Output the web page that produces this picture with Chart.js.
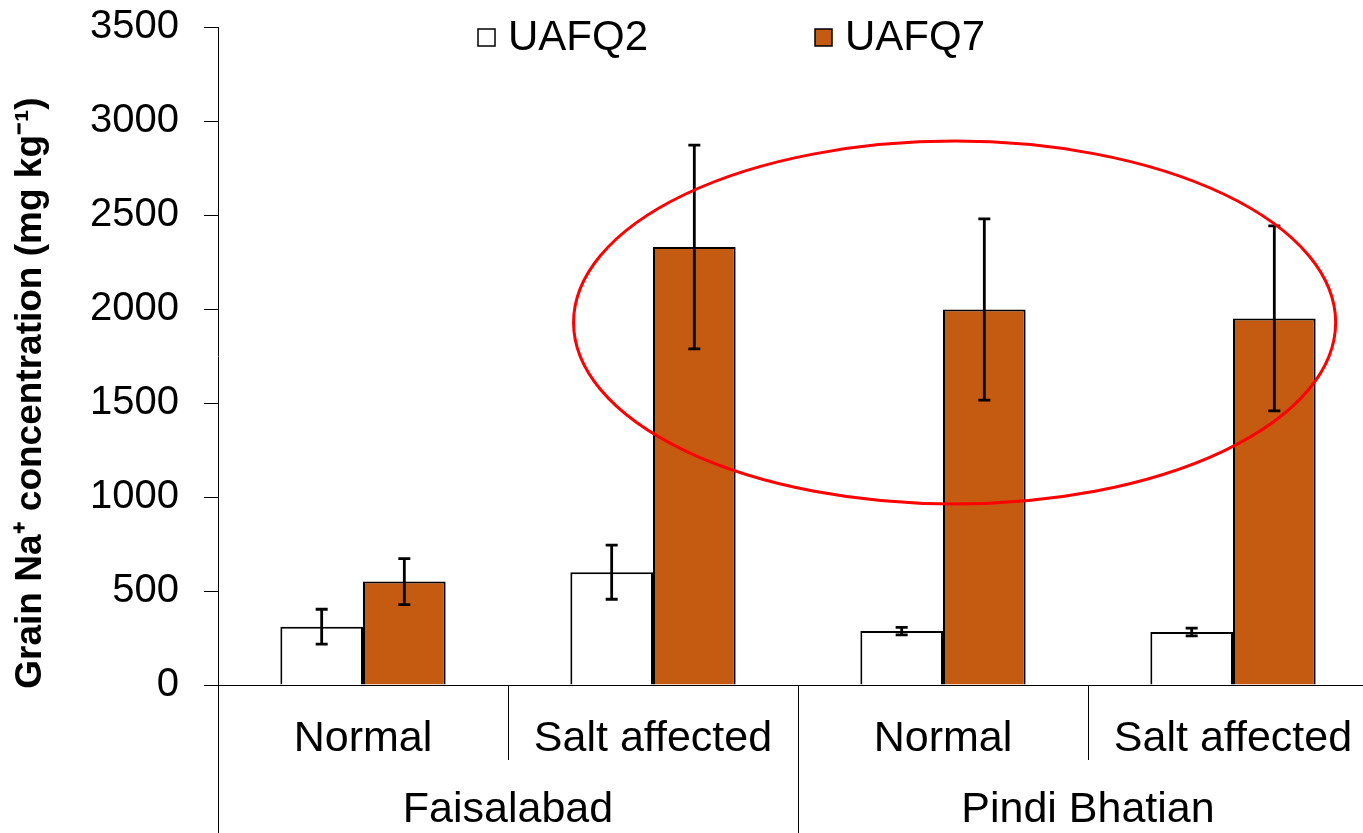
<!DOCTYPE html>
<html>
<head>
<meta charset="utf-8">
<script src="https://cdn.jsdelivr.net/npm/chart.js@4.4.1/dist/chart.umd.min.js"></script>
<style>
  html, body { margin: 0; padding: 0; background: #fff; overflow: hidden; }
  #wrap { position: relative; width: 1378px; height: 833px; }
</style>
</head>
<body>
<div id="wrap"><canvas id="c"></canvas></div>
<script>
// ---- data ----
const categories = ['Normal', 'Salt affected', 'Normal', 'Salt affected'];
const groups = ['Faisalabad', 'Pindi Bhatian'];
const seriesNames = ['UAFQ2', 'UAFQ7'];
const uafq2 = [310, 600, 287, 282];
const uafq2Err = [93, 144, 20, 21];
const uafq7 = [550, 2330, 1997, 1950];
const uafq7Err = [122, 542, 482, 492];
const yTicks = [0, 500, 1000, 1500, 2000, 2500, 3000, 3500];
const yTitle = 'Grain Na\u207A concentration (mg kg\u207B\u00B9)';
// highlight ellipse in data units (category index, value)
const ellipse = { cx: 2.04, cy: 1928, rx: 1.314, ry: 965 };

const FONT = '"Liberation Sans", Arial, sans-serif';
const ORANGE = '#C55A11';

const overlay = {
  id: 'overlay',
  beforeDraw(chart) {
    const ctx = chart.ctx;
    ctx.save();
    ctx.fillStyle = '#fff';
    ctx.fillRect(0, 0, chart.width, chart.height);
    ctx.restore();
  },
  afterDatasetsDraw(chart) {
    const ctx = chart.ctx;
    const y = chart.scales.y, x = chart.scales.x;
    const errs = [uafq2Err, uafq7Err];
    ctx.save();
    ctx.strokeStyle = '#000';
    ctx.lineWidth = 2.8;
    chart.data.datasets.forEach((ds, i) => {
      const meta = chart.getDatasetMeta(i);
      meta.data.forEach((el, j) => {
        const v = ds.data[j], e = errs[i][j];
        const yt = y.getPixelForValue(v + e), yb = y.getPixelForValue(v - e);
        ctx.beginPath();
        ctx.moveTo(el.x, yt); ctx.lineTo(el.x, yb);
        ctx.moveTo(el.x - 6, yt); ctx.lineTo(el.x + 6, yt);
        ctx.moveTo(el.x - 6, yb); ctx.lineTo(el.x + 6, yb);
        ctx.stroke();
      });
    });
    // ellipse
    const cxp = x.getPixelForValue(ellipse.cx);
    const cyp = y.getPixelForValue(ellipse.cy);
    const catW = (chart.chartArea.right - chart.chartArea.left) / categories.length;
    const rxp = ellipse.rx * catW;
    const ryp = Math.abs(y.getPixelForValue(ellipse.cy + ellipse.ry) - cyp);
    ctx.strokeStyle = '#FF0000';
    ctx.lineWidth = 3;
    ctx.beginPath();
    ctx.ellipse(cxp, cyp, rxp, ryp, 0, 0, Math.PI * 2);
    ctx.stroke();
    ctx.restore();
  },
  afterDraw(chart) {
    const ctx = chart.ctx;
    const ca = chart.chartArea;
    const n = categories.length;
    const catW = (ca.right - ca.left) / n;
    ctx.save();
    ctx.strokeStyle = '#000';
    ctx.lineWidth = 1;
    for (let k = 0; k <= n; k++) {
      const xx = Math.round(ca.left + k * catW) + 0.5;
      ctx.beginPath();
      ctx.moveTo(xx, ca.bottom);
      ctx.lineTo(xx, k % 2 === 0 ? chart.height : ca.bottom + 75);
      ctx.stroke();
    }
    // group labels
    ctx.fillStyle = '#000';
    ctx.font = '43px ' + FONT;
    ctx.textAlign = 'center';
    ctx.textBaseline = 'middle';
    groups.forEach((g, gi) => {
      const cx = ca.left + (gi * 2 + 1) * catW;
      ctx.fillText(g, cx, 810);
    });
    // legend
    const legendItems = [
      { label: seriesNames[0], fill: '#FFFFFF', bx: 478 },
      { label: seriesNames[1], fill: ORANGE, bx: 815 }
    ];
    ctx.textAlign = 'left';
    ctx.font = '42px ' + FONT;
    legendItems.forEach(it => {
      ctx.fillStyle = it.fill;
      ctx.fillRect(it.bx, 29, 17, 17);
      ctx.lineWidth = 1.5;
      ctx.strokeStyle = '#000';
      ctx.strokeRect(it.bx, 29, 17, 17);
      ctx.fillStyle = '#000';
      ctx.fillText(it.label, it.bx + 30, 38);
    });
    // y title
    ctx.translate(31, 393);
    ctx.rotate(-Math.PI / 2);
    ctx.font = 'bold 37px ' + FONT;
    ctx.textAlign = 'center';
    ctx.textBaseline = 'middle';
    ctx.fillText(yTitle, 0, 0);
    ctx.restore();
  }
};

new Chart(document.getElementById('c'), {
  type: 'bar',
  data: {
    labels: categories,
    datasets: [
      { label: seriesNames[0], data: uafq2, backgroundColor: '#FFFFFF', borderColor: '#000', borderWidth: 2 },
      { label: seriesNames[1], data: uafq7, backgroundColor: ORANGE, borderColor: '#000', borderWidth: 2 }
    ]
  },
  options: {
    responsive: true,
    maintainAspectRatio: false,
    animation: false,
    layout: { padding: { top: 27, left: 0, right: 0, bottom: 0 } },
    datasets: { bar: { categoryPercentage: 0.57, barPercentage: 1.0 } },
    plugins: { legend: { display: false }, tooltip: { enabled: false } },
    scales: {
      x: {
        grid: { display: false },
        border: { display: true, color: '#000', width: 1 },
        ticks: { color: '#000', font: { family: FONT, size: 43 }, padding: 20, maxRotation: 0, autoSkip: false },
        afterFit(s) { s.height = 148; s.paddingLeft = 0; s.paddingRight = 0; }
      },
      y: {
        min: 0, max: 3500,
        afterBuildTicks(s) { s.ticks = yTicks.map(v => ({ value: v })); },
        grid: { display: true, drawOnChartArea: false, drawTicks: true, tickLength: 14, color: '#000' },
        border: { display: true, color: '#000', width: 1 },
        ticks: { color: '#000', font: { family: FONT, size: 40 }, padding: 25, callback: v => String(v) },
        afterFit(s) { s.width = 218; s.paddingTop = 0; s.paddingBottom = 0; }
      }
    }
  },
  plugins: [overlay]
});
</script>
</body>
</html>
